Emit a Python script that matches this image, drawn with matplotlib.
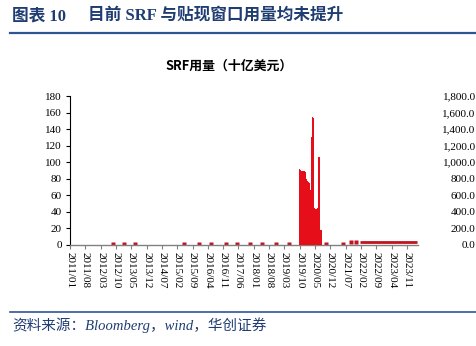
import matplotlib
matplotlib.use('Agg')
import matplotlib.pyplot as plt
from matplotlib.lines import Line2D
from matplotlib.ticker import FuncFormatter
import pandas as pd

plt.rcParams['font.family'] = ['Liberation Serif', 'Noto Sans CJK SC']

# ---------------- data ----------------
tick_labels = ['2011/01', '2011/08', '2012/03', '2012/10', '2013/05', '2013/12',
               '2014/07', '2015/02', '2015/09', '2016/04', '2016/11', '2017/06',
               '2018/01', '2018/08', '2019/03', '2019/10', '2020/05', '2020/12',
               '2021/07', '2022/02', '2022/09', '2023/04', '2023/11']

# weekly usage (left axis), starting 2019-09-14
repo_start = '2019-09-14'
repo_values = [93, 92, 91, 91, 90, 90, 89,
               89, 89, 89, 88, 89, 89, 88, 88,
               80, 77,
               77, 76, 76, 75, 75,
               66, 66,
               111, 130,
               150, 155, 155, 153,
               150, 45,
               45, 44, 44, 44, 44, 45,
               100, 106, 106,
               106, 100,
               18, 18, 18]

# small isolated operations (right axis)
dot_dates = ['2012-08-20', '2013-01-20', '2013-06-18', '2015-05-07', '2015-11-25',
             '2016-05-13', '2016-12-06', '2017-05-15', '2017-11-09', '2018-04-28',
             '2018-11-04', '2019-05-06', '2020-10-01', '2021-05-19',
             '2021-09-15', '2021-11-20']
dot_values = [8, 8, 8, 8, 8, 8, 8, 8, 8, 8, 8, 8, 8, 8, 40, 40]

# SRF usage (right axis)
band_dates = ['2022-01-15', '2022-02-01', '2022-03-01', '2022-04-01',
              '2022-05-01', '2022-06-01', '2022-07-01', '2022-08-01', '2022-09-01',
              '2022-10-01', '2022-11-01', '2022-12-01', '2023-01-01', '2023-02-01',
              '2023-03-01', '2023-04-01', '2023-05-01', '2023-06-01', '2023-07-01',
              '2023-08-01', '2023-09-01', '2023-10-01', '2023-11-01', '2023-12-01',
              '2024-01-01', '2024-02-01', '2024-03-25']
band_values = [42, 42, 42, 42, 42, 42, 42, 42, 42, 42, 42, 42, 42, 42,
               42, 42, 42, 42, 42, 42, 42, 42, 42, 42, 42, 42, 42]

# ---------------- figure ----------------
W, H = 476, 346
fig = plt.figure(figsize=(W / 100, H / 100), dpi=100)

def fx(px):
    return px / W

def fy(py):
    return 1 - py / H

navy = '#1F3D73'
bright = '#E60E18'
dark = '#C0141E'

fig.text(fx(12), fy(16), '图表 10', color=navy, fontsize=12, fontweight='bold',
         va='center', ha='left', family=['Liberation Serif', 'Noto Sans CJK SC'])
fig.text(fx(88), fy(16), '目前 SRF 与贴现窗口用量均未提升', color=navy, fontsize=12,
         fontweight='bold', va='center', ha='left',
         family=['Liberation Serif', 'Noto Sans CJK SC'])
fig.add_artist(Line2D([fx(10), 1.0], [fy(33), fy(33)], color='#2F5597', lw=1.6,
                      transform=fig.transFigure))
fig.add_artist(Line2D([fx(10), 1.0], [fy(311.5), fy(311.5)], color='#2F5597', lw=1.2,
                      transform=fig.transFigure))
fig.text(fx(12), fy(325), '资料来源：Bloomberg，wind，华创证券', color=navy, fontsize=10.5,
         fontstyle='italic', va='center', ha='left',
         family=['Liberation Serif', 'Noto Sans CJK SC'])

fig.text(fx(229), fy(66), 'SRF用量（十亿美元）', fontsize=9.3, fontweight='bold',
         ha='center', va='center', family=['Noto Sans CJK SC'])

ax = fig.add_axes([fx(70), fy(245), fx(418) - fx(70), fy(96) - fy(245)])
ax2 = ax.twinx()

repo_dates = pd.date_range(repo_start, periods=len(repo_values), freq='7D')
ax.bar(repo_dates, repo_values, width=7.6, align='edge', color=bright,
       edgecolor='none', zorder=3)

ax2.plot(pd.to_datetime(dot_dates), dot_values, linestyle='none', marker='s',
         ms=2.4, color=dark, mec='none')
ax2.plot(pd.to_datetime(band_dates), band_values, color=dark, lw=2.0,
         solid_capstyle='butt')

ax.set_xlim(pd.Timestamp('2011-01-01'), pd.Timestamp('2024-04-01'))
ax.set_ylim(0, 180)
ax2.set_ylim(0, 1800)
ax.set_yticks(range(0, 181, 20))
ax2.set_yticks(range(0, 1801, 200))
ax2.yaxis.set_major_formatter(FuncFormatter(lambda v, p: f'{v:,.1f}'))

tick_dates = [pd.Timestamp(t.replace('/', '-') + '-01') for t in tick_labels]
ax.set_xticks(tick_dates)
ax.set_xticklabels(tick_labels, rotation=-90, fontsize=8)
ax.tick_params(axis='x', length=3, color='#808080', pad=2)
ax.tick_params(axis='y', labelsize=8, length=3, color='black', pad=3)
ax2.tick_params(axis='y', labelsize=8, length=0, pad=41.5)
for lab in ax2.get_yticklabels():
    lab.set_horizontalalignment('right')

for a in (ax, ax2):
    for s in ('top', 'right', 'left', 'bottom'):
        a.spines[s].set_visible(False)
ax.spines['left'].set_visible(True)
ax.spines['left'].set_color('black')
ax.spines['left'].set_linewidth(0.8)
ax.spines['bottom'].set_visible(True)
ax.spines['bottom'].set_color('#808080')
ax.spines['bottom'].set_linewidth(1.0)
ax2.set_zorder(ax.get_zorder() - 1)
ax.patch.set_visible(False)

fig.savefig('out.png', dpi=100)
